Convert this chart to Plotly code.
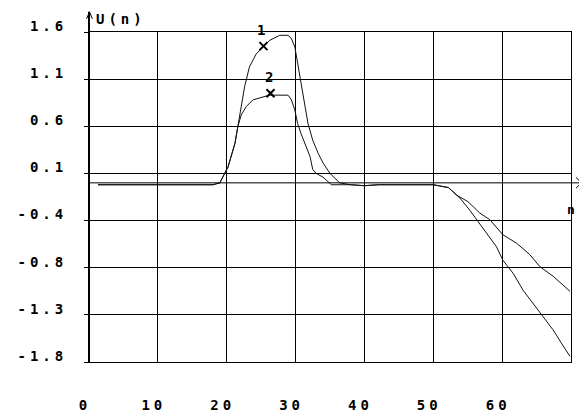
import plotly.graph_objects as go

# ---- data ----
n1 = [1.3, 5, 10, 15, 18, 19.0, 20.2, 21.2, 21.9, 22.6, 23.3, 24.3, 25.3, 26.2, 27.7, 28.9,
      29.4, 29.9, 30.3, 30.8, 31.3, 31.8, 32.5, 33.3, 34.0, 35.0, 36.4, 38, 40, 42, 45, 48,
      50, 52.2, 53.85, 55.3, 56.3, 57.7, 59.2, 60.1, 61.6, 63.05, 64.5, 66.0, 67.4, 68.6, 69.85]
u1 = [-0.02, -0.02, -0.02, -0.02, -0.02, 0.0, 0.17, 0.42, 0.74, 1.02, 1.23, 1.37, 1.44, 1.51, 1.565, 1.565,
      1.53, 1.44, 1.27, 1.05, 0.84, 0.63, 0.45, 0.31, 0.21, 0.10, 0.0, -0.02, -0.03, -0.02, -0.02, -0.02,
      -0.02, -0.05, -0.16, -0.29, -0.39, -0.53, -0.68, -0.82, -0.96, -1.14, -1.28, -1.42, -1.56, -1.70, -1.84]

n2 = [1.3, 5, 10, 15, 18, 19.0, 20.2, 21.2, 21.6, 22.1, 22.85, 23.8, 25.3, 26.2, 28.9, 29.4,
      29.9, 30.3, 30.8, 31.3, 32.1, 32.5, 33.0, 34.0, 34.7, 35.2, 38, 40, 42, 45, 48, 50,
      52.2, 53.4, 55.05, 56.75, 58.2, 60.1, 62.1, 64.0, 65.5, 67.4, 69.85]
u2 = [-0.02, -0.02, -0.02, -0.02, -0.02, 0.0, 0.17, 0.42, 0.59, 0.72, 0.81, 0.88, 0.91, 0.93, 0.93, 0.88,
      0.77, 0.63, 0.52, 0.42, 0.28, 0.14, 0.10, 0.06, 0.01, -0.02, -0.02, -0.03, -0.02, -0.02, -0.02, -0.02,
      -0.05, -0.13, -0.20, -0.32, -0.39, -0.55, -0.64, -0.76, -0.89, -0.99, -1.15]

mark_n = [25.34, 26.36]
mark_u = [1.45, 0.95]
mark_lbl = ["1", "2"]

x_ticks = [0, 10, 20, 30, 40, 50, 60, 70]
x_text = ["0", "10", "20", "30", "40", "50", "60", ""]
y_ticks = [1.6, 1.1, 0.6, 0.1, -0.4, -0.9, -1.4, -1.9]
y_text = ["1.6", "1.1", "0.6", "0.1", "-0.4", "-0.8", "-1.3", "-1.8"]

FONT = "DejaVu Sans Mono"
YMIN, YMAX = -1.9, 1.6

fig = go.Figure()
fig.add_trace(go.Scatter(x=n1, y=u1, mode="lines", line=dict(color="#111", width=1), showlegend=False))
fig.add_trace(go.Scatter(x=n2, y=u2, mode="lines", line=dict(color="#111", width=1), showlegend=False))
fig.add_trace(go.Scatter(x=mark_n, y=mark_u, mode="markers",
                         marker=dict(symbol="x-thin", size=8, line=dict(color="black", width=2)),
                         showlegend=False, cliponaxis=False))
for xn, yu, t in zip(mark_n, mark_u, mark_lbl):
    fig.add_annotation(x=xn, y=yu, text=t, showarrow=False, yshift=16,
                       font=dict(family=FONT, size=14, color="black", weight="bold"))

zero_p = (0 - YMIN) / (YMAX - YMIN)
line_k = dict(color="black", width=1)
shapes = [
    # y axis line with arrow
    dict(type="line", xref="paper", yref="paper", x0=0, x1=0, y0=0, y1=1.061, line=dict(color="black", width=2)),
    dict(type="line", xref="paper", yref="paper", x0=-0.005, x1=0.001, y0=1.04, y1=1.061, line=line_k),
    dict(type="line", xref="paper", yref="paper", x0=0.007, x1=0.001, y0=1.04, y1=1.061, line=line_k),
    # zero line (x axis) extending right with arrow
    dict(type="line", xref="paper", yref="paper", x0=0, x1=1.03, y0=zero_p, y1=zero_p, line=line_k),
    dict(type="line", xref="paper", yref="paper", x0=1.0105, x1=1.022, y0=zero_p + 0.016, y1=zero_p, line=line_k),
    dict(type="line", xref="paper", yref="paper", x0=1.0105, x1=1.022, y0=zero_p - 0.016, y1=zero_p, line=line_k),
]
fig.update_layout(shapes=shapes)

fig.add_annotation(xref="paper", yref="paper", x=0.026, y=1.0385, xanchor="left", yanchor="middle",
                   text="U(n)", showarrow=False, font=dict(family=FONT, size=14, color="black", weight="bold"))
fig.add_annotation(xref="paper", yref="paper", x=1.012, y=0.4636, xanchor="right", yanchor="middle",
                   text="n", showarrow=False, font=dict(family=FONT, size=13, color="black", weight="bold"))

fig.update_layout(
    width=579, height=412,
    margin=dict(l=89, r=8, t=32, b=50, autoexpand=False),
    paper_bgcolor="white", plot_bgcolor="white",
    font=dict(family=FONT, size=14, color="black", weight="bold"),
    xaxis=dict(range=[0, 70], tickvals=x_ticks, ticktext=x_text, showgrid=True, gridcolor="black",
               gridwidth=1, zeroline=False, showline=True, mirror=True, linecolor="black", linewidth=1,
               ticks="", ticklabelstandoff=30, ticklabelshift=-4, automargin=False),
    yaxis=dict(range=[YMIN, YMAX], tickvals=y_ticks, ticktext=y_text, showgrid=True, gridcolor="black",
               gridwidth=1, zeroline=False, showline=True, mirror=True, linecolor="black", linewidth=1,
               ticks="outside", ticklen=4, tickcolor="black",
               ticklabelstandoff=14, ticklabelshift=-6, automargin=False),
)

post = """
document.body.style.margin = '0';
document.body.style.overflow = 'hidden';
var gd = document.getElementById('{plot_id}');
gd.querySelectorAll('.xtick text, .ytick text').forEach(function(t){
  t.style.letterSpacing = '4px';
});
gd.querySelectorAll('.annotation-text').forEach(function(t){
  if (t.textContent !== 'n') { t.style.letterSpacing = '4px'; }
});
"""
fig.write_html("out.html", post_script=post, config={"displayModeBar": False})
